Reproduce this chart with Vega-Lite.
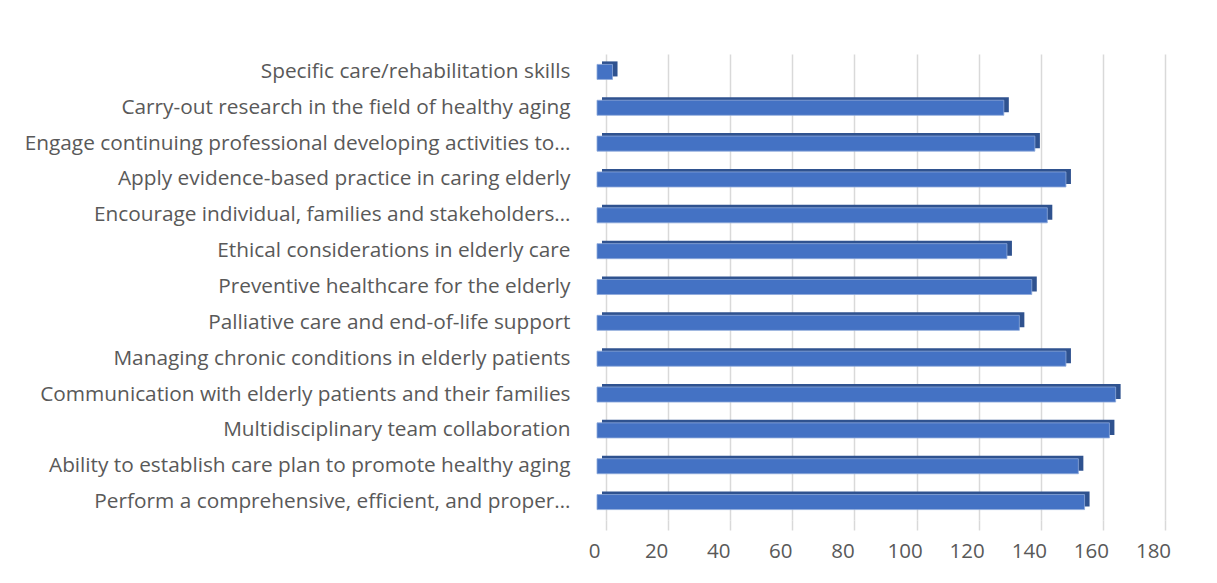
{
  "$schema": "https://vega.github.io/schema/vega-lite/v6.json",
  "width": 559,
  "height": 466,
  "autosize": {"type": "none"},
  "padding": {"left": 597, "top": 54, "right": 61, "bottom": 63},
  "background": "white",
  "data": {
    "values": [
      {"skill": "Specific care/rehabilitation skills", "count": 5},
      {"skill": "Carry-out research in the field of healthy aging", "count": 131},
      {"skill": "Engage continuing professional developing activities to…", "count": 141},
      {"skill": "Apply evidence-based practice in caring elderly", "count": 151},
      {"skill": "Encourage individual, families and stakeholders…", "count": 145},
      {"skill": "Ethical considerations in elderly care", "count": 132},
      {"skill": "Preventive healthcare for the elderly", "count": 140},
      {"skill": "Palliative care and end-of-life support", "count": 136},
      {"skill": "Managing chronic conditions in elderly patients", "count": 151},
      {"skill": "Communication with elderly patients and their families", "count": 167},
      {"skill": "Multidisciplinary team collaboration", "count": 165},
      {"skill": "Ability to establish care plan to promote healthy aging", "count": 155},
      {"skill": "Perform a comprehensive, efficient, and proper…", "count": 157}
    ]
  },
  "encoding": {
    "y": {
      "field": "skill",
      "type": "nominal",
      "sort": null,
      "scale": {"paddingInner": 0.58, "paddingOuter": 0.29},
      "axis": {
        "title": null,
        "domain": false,
        "ticks": false,
        "labelPadding": 27,
        "labelFontSize": 20.8,
        "labelColor": "#595959",
        "labelLimit": 0,
        "labelFont": "Open Sans"
      }
    },
    "x": {
      "field": "count",
      "type": "quantitative",
      "scale": {"domain": [0, 180], "nice": false},
      "axis": {
        "title": null,
        "values": [0, 20, 40, 60, 80, 100, 120, 140, 160, 180],
        "tickOffset": 9,
        "labelOffset": -12,
        "labelFlush": false,
        "grid": true,
        "gridColor": "#D9D9D9",
        "gridWidth": 1.5,
        "domain": false,
        "ticks": true,
        "tickColor": "#D9D9D9",
        "tickSize": 10,
        "tickWidth": 1.5,
        "labelFontSize": 20.5,
        "labelColor": "#595959",
        "labelPadding": 11,
        "labelFont": "Open Sans"
      }
    }
  },
  "layer": [
    {
      "mark": {"type": "bar", "color": "#2F528F", "xOffset": 5, "x2Offset": 5, "yOffset": -3, "y2Offset": -3}
    },
    {
      "mark": {"type": "bar", "color": "#4472C4", "stroke": "#8EA9DB", "strokeWidth": 0.8}
    }
  ],
  "config": {"view": {"stroke": null}, "font": "Open Sans"}
}
